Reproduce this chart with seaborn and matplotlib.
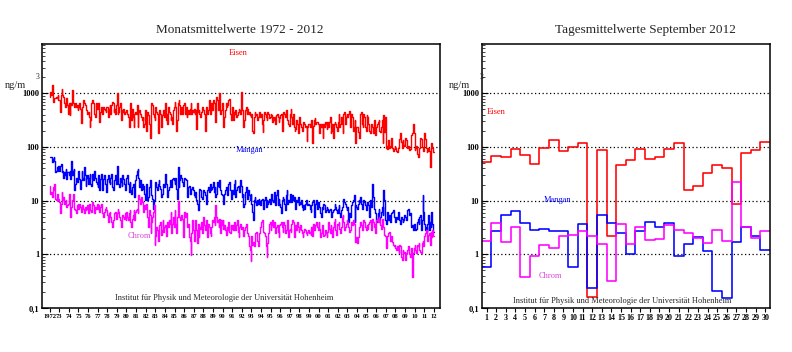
import seaborn as sns
import matplotlib.pyplot as plt
import pandas as pd
import numpy as np

# Monatsmittelwerte 1972-2011, ng/m3 (one line per year)
eisen = [
    865, 1040, 930, 1440, 675, 750, 805, 805, 865, 805, 930, 750,
    750, 450, 930, 1190, 930, 865, 650, 560, 650, 805, 600, 420,
    650, 390, 650, 600, 1155, 650, 600, 560, 650, 560, 600, 485,
    560, 650, 520, 280, 485, 560, 750, 670, 600, 560, 485, 420,
    450, 365, 240, 315, 670, 750, 650, 560, 420, 365, 650, 500,
    670, 650, 290, 450, 560, 520, 420, 560, 520, 485, 450, 560,
    560, 365, 520, 600, 420, 600, 700, 650, 450, 520, 420, 600,
    1000, 420, 450, 560, 650, 315, 485, 450, 520, 420, 450, 485,
    485, 420, 365, 235, 450, 650, 315, 520, 365, 235, 420, 450,
    420, 600, 235, 450, 485, 420, 365, 315, 365, 235, 270, 485,
    200, 365, 450, 390, 270, 150, 485, 650, 600, 420, 365, 315,
    560, 450, 420, 180, 365, 485, 420, 235, 390, 420, 485, 365,
    650, 315, 420, 270, 560, 450, 420, 315, 365, 270, 485, 560,
    700, 560, 200, 315, 650, 750, 600, 420, 560, 420, 485, 600,
    650, 420, 560, 365, 420, 485, 420, 520, 650, 420, 485, 450,
    520, 420, 485, 220, 650, 450, 485, 420, 365, 450, 560, 485,
    485, 420, 200, 560, 450, 420, 485, 750, 420, 560, 650, 485,
    750, 650, 315, 290, 865, 750, 485, 750, 1000, 420, 485, 650,
    485, 235, 365, 485, 650, 560, 600, 750, 800, 420, 365, 315,
    560, 315, 450, 420, 485, 365, 390, 450, 520, 485, 420, 1050,
    485, 365, 235, 315, 485, 560, 420, 520, 420, 450, 390, 365,
    420, 200, 180, 365, 450, 390, 420, 315, 365, 420, 450, 365,
    420, 270, 190, 315, 450, 420, 365, 315, 450, 420, 340, 365,
    420, 390, 290, 365, 315, 365, 270, 390, 420, 365, 290, 340,
    390, 420, 200, 365, 450, 420, 365, 485, 420, 315, 270, 250,
    420, 500, 365, 270, 420, 235, 200, 220, 315, 270, 180, 235,
    365, 270, 235, 200, 220, 290, 270, 235, 250, 130, 235, 270,
    270, 235, 290, 315, 120, 250, 315, 340, 270, 290, 290, 270,
    270, 180, 270, 235, 270, 150, 270, 235, 290, 270, 220, 290,
    235, 290, 365, 180, 200, 270, 150, 270, 290, 270, 235, 200,
    290, 420, 235, 270, 365, 270, 180, 420, 450, 270, 365, 420,
    365, 420, 470, 235, 270, 420, 365, 200, 235, 315, 120, 235,
    235, 190, 180, 150, 420, 450, 270, 235, 420, 365, 235, 200,
    390, 365, 270, 200, 180, 235, 270, 235, 180, 315, 235, 165,
    235, 270, 290, 315, 200, 190, 235, 315, 120, 390, 190, 365,
    95, 105, 90, 135, 95, 105, 120, 150, 95, 85, 90, 105,
    95, 85, 80, 95, 135, 140, 180, 125, 95, 135, 110, 105,
    150, 135, 135, 95, 105, 88, 90, 140, 165, 180, 270, 180,
    88, 95, 105, 75, 64, 70, 95, 150, 140, 100, 95, 85,
    180, 140, 95, 82, 85, 95, 85, 43, 110, 120, 95, 80,
]
mangan = [
    66, 64, 66, 52, 60, 64, 56, 34, 36, 42, 36, 45,
    36, 45, 48, 34, 36, 27, 34, 30, 39, 25, 34, 34,
    30, 36, 25, 56, 30, 36, 39, 15.5, 20.6, 27, 22, 24,
    36, 25, 16.7, 24, 36, 27, 24, 42, 30, 19, 27, 30,
    20.6, 27, 32, 20.6, 19, 32, 24, 34, 36, 27, 22, 20.6,
    18, 30, 15.5, 25, 32, 22, 15.5, 25, 30, 20.6, 18, 14.5,
    25, 30, 22, 20.6, 27, 32, 18, 15.5, 22, 24, 30, 20.6,
    45, 22, 20.6, 18, 27, 22, 19, 30, 25, 20.6, 15.5, 20.6,
    27, 30, 20.6, 14.5, 22, 15.5, 13.5, 18, 20.6, 15.5, 11.7, 24,
    30, 36, 39, 27, 18, 24, 15.5, 20.6, 16.7, 19, 13.5, 10.1,
    20.6, 13.5, 10.1, 11.7, 18, 24, 15.5, 12.5, 10.9, 7.1, 10.1, 13.5,
    22, 18, 15.5, 20.6, 24, 19, 16.7, 11.7, 13.5, 15.5, 20.6, 18,
    32, 20.6, 14.5, 11.7, 15.5, 18, 24, 20.6, 18, 25, 27, 24,
    20.6, 27, 16.7, 10.9, 43, 18, 24, 30, 27, 22, 20.6, 19,
    27, 25, 24, 22, 11.7, 18, 19, 13.5, 14.5, 16.7, 18, 15.5,
    12.5, 11.7, 14.5, 10.1, 8.8, 6.6, 13.5, 16.7, 15.5, 11.7, 10.9, 14.5,
    15.5, 14.5, 12.5, 8.8, 13.5, 15.5, 18, 14.5, 20.6, 15.5, 16.7, 18,
    22, 14.5, 18, 11.7, 13.5, 22, 19, 18, 24, 15.5, 13.5, 12.5,
    10.1, 8.8, 13.5, 15.5, 18, 14.5, 12.5, 20.6, 22, 15.5, 11.7, 10.9,
    15.5, 13.5, 20.6, 24, 11.7, 15.5, 18, 19, 16.7, 14.5, 24, 19,
    11.7, 13.5, 7.6, 8.8, 14.5, 18, 12.5, 10.9, 15.5, 12.5, 10.1, 13.5,
    8.8, 6.2, 4.3, 10.1, 11.7, 9.4, 8.2, 10.1, 8.8, 10.9, 9.4, 8.2,
    10.1, 10.9, 8.8, 7.1, 10.1, 11.7, 7.6, 10.1, 8.8, 9.4, 10.9, 8.8,
    11.7, 13.5, 10.1, 9.4, 14.5, 10.9, 8.2, 12.5, 15.5, 8.2, 10.9, 8.8,
    7.6, 5.8, 10.1, 11.7, 10.9, 8.8, 6.6, 12.5, 15.5, 8.8, 10.1, 9.4,
    13.5, 10.9, 9.4, 12.5, 10.1, 11.7, 8.8, 7.1, 10.1, 9.4, 11.7, 8.2,
    9.4, 8.8, 10.1, 7.6, 6.6, 8.2, 7.1, 8.8, 10.1, 9.4, 8.2, 8.8,
    8.2, 7.1, 6.2, 8.2, 9.4, 10.1, 5, 8.2, 8.8, 10.1, 7.1, 9.4,
    9.4, 7.6, 5.8, 5, 7.6, 7.1, 8.8, 8.2, 6.2, 6.6, 7.6, 7.1,
    6.2, 6.6, 7.1, 5.3, 5, 6.2, 6.6, 7.1, 8.8, 7.6, 6.6, 5.8,
    7.1, 8.2, 5.8, 5, 6.6, 7.6, 10.1, 10.9, 9.4, 8.8, 7.6, 6.6,
    7.6, 4, 5.8, 5, 6.6, 8.2, 9.4, 10.1, 12.5, 4, 8.2, 7.6,
    7.1, 8.8, 10.1, 9.4, 11.7, 8.8, 7.1, 7.6, 10.1, 9.4, 8.2, 6.6,
    7.1, 9.4, 8.2, 5, 10.1, 8.8, 7.6, 20.6, 11.7, 7.1, 6.2, 5.8,
    4, 4.6, 5.8, 7.1, 4.3, 5, 6.2, 7.6, 5.3, 15.5, 10.1, 4.3,
    3.7, 5, 6.2, 4.3, 5.3, 4, 4.6, 5.8, 6.2, 6.6, 5, 4.3,
    4, 5, 4.6, 6.2, 5.8, 4.3, 3.7, 5, 4.6, 4, 4.3, 5.3,
    5, 4.3, 5.8, 6.6, 7.1, 5.3, 5.8, 4, 3.2, 3.5, 2.85, 3.7,
    3.5, 2.85, 3, 4, 4.6, 3.7, 5, 5.3, 2.85, 4.3, 12.5, 6.2,
    3.7, 2.85, 3.2, 2.6, 3.7, 5.3, 2.85, 4, 3.2, 6.2, 3.7, 2.6,
]
chrom = [
    19, 13.5, 14.5, 11.7, 18, 15.5, 20.6, 10.9, 10.1, 13.5, 10.1, 10.9,
    9.4, 5.8, 8.8, 14.5, 10.1, 11.7, 8.8, 9.4, 10.1, 7.6, 8.2, 8.8,
    13.5, 10.1, 5, 7.6, 10.1, 13.5, 8.8, 7.1, 6.6, 5.8, 8.2, 8.8,
    7.1, 8.8, 7.6, 6.2, 6.6, 8.2, 7.1, 5.8, 7.6, 6.6, 7.1, 8.2,
    5.8, 8.8, 8.2, 6.6, 6.2, 9.4, 8.2, 6.6, 5.8, 7.6, 7.1, 8.8,
    7.1, 8.2, 6.2, 7.6, 8.8, 6.6, 5.8, 5, 6.2, 7.1, 7.6, 6.6,
    5.3, 4, 5.8, 6.2, 5, 4, 3.2, 4.3, 5, 5.8, 6.2, 4.6,
    5.8, 7.1, 6.2, 5, 4.3, 3.2, 4, 5.3, 5, 4.6, 5.8, 4.3,
    6.2, 5, 4.3, 5.8, 6.6, 4, 3.2, 4.6, 5.3, 6.6, 4.3, 6.2,
    6.6, 7.1, 5.8, 12.6, 10.9, 8.8, 11.7, 9.4, 7.6, 6.2, 8.2, 7.1,
    8.8, 7.1, 5, 3.2, 6.6, 5.3, 2.45, 4, 5, 6.2, 8.2, 1.5,
    2.2, 3.2, 2.85, 1.8, 2.45, 3.5, 4, 2.3, 2.85, 4.3, 2.6, 3.2,
    3.5, 2.2, 2.6, 4, 3.2, 4.3, 3.7, 6.2, 2.45, 3.7, 5, 3.2,
    6.6, 3.7, 2.45, 5, 10, 6.6, 5, 4.3, 5.3, 4.6, 3.2, 2.1,
    6.2, 5, 5.8, 4.3, 3.2, 3.7, 2.1, 1.8, 0.98, 2.45, 4.3, 2.85,
    1.8, 4, 4.3, 2.85, 1.6, 3.7, 2.1, 3.2, 3, 4, 2.45, 2.85,
    5, 3.5, 2.85, 4.3, 3, 2.1, 3.7, 3.2, 2.45, 2.2, 3.2, 4.3,
    4, 5, 3.5, 8.2, 5, 4, 4.3, 3.2, 4.6, 2.45, 4.3, 3.5,
    4.3, 3, 3.5, 2.85, 2.3, 3.2, 2.85, 4, 2.6, 2.45, 3.5, 3,
    3.5, 2.85, 4, 3.2, 2.85, 3.5, 4.3, 2.6, 2.1, 3.2, 3.7, 3,
    3.2, 2.6, 2.2, 2.85, 3.2, 3.7, 3, 2.45, 2.2, 1.4, 1.2, 0.75,
    2.2, 1.5, 1.7, 1.4, 1.8, 2.45, 2.6, 1.8, 1.4, 2.2, 2.45, 3.2,
    4, 4.3, 3.2, 2.6, 2.45, 2.2, 1.4, 0.9, 1.6, 2.45, 3.7, 4,
    2.85, 3.5, 4.3, 3.2, 4, 2.85, 2.45, 3.2, 3.5, 2.6, 2.1, 3.5,
    3.7, 4, 3.2, 2.6, 4, 3.5, 2.45, 2.85, 3.7, 4.3, 2.1, 2.85,
    3, 2.6, 3.7, 4.3, 4, 2.1, 2.45, 3.5, 2.85, 4, 3.2, 2.6,
    3, 3.5, 2.85, 2.45, 2.1, 2.6, 3, 2.85, 2.45, 2.3, 2.6, 2.85,
    2.45, 2.6, 2.3, 3.2, 2.2, 3.7, 2.85, 3.2, 3.5, 4, 3.2, 2.85,
    4, 3, 2.1, 2.45, 3.5, 3, 2.2, 2.3, 2.85, 2.45, 2.1, 2.6,
    4, 3, 2.45, 3.5, 2.85, 2.1, 3.2, 4, 4.6, 2.85, 2.3, 3.7,
    3.5, 4, 3, 2.45, 3.2, 5, 5.3, 4, 2.85, 3.2, 3.7, 4.3,
    4, 3.2, 2.6, 2.85, 3.2, 4, 3.5, 4.3, 3.7, 3, 1.7, 2.1,
    1.6, 2.1, 2.6, 3.2, 4, 3.5, 2.85, 3, 4.3, 4, 3.2, 2.85,
    3.5, 3, 3.7, 4, 4.3, 3.5, 2.85, 4.6, 4, 3.2, 3.7, 2.45,
    4.3, 4.6, 4, 5, 4.3, 3.5, 3, 4.6, 4, 3.2, 2.3, 2.2,
    1.3, 2.1, 2.2, 2.45, 2.6, 1.8, 2.1, 2.2, 1.7, 1.5, 1.4, 1.5,
    1.3, 1.2, 1.4, 1.2, 1.05, 1.5, 1.4, 0.9, 0.8, 1.2, 1.05, 1.1,
    0.8, 1.05, 1.1, 1.2, 1.4, 1, 0.9, 1.2, 1.3, 0.38, 1.05, 1.3,
    1.5, 1.2, 1.05, 1.5, 1.4, 1.6, 1.2, 1.1, 1.05, 1.6, 1.8, 1.4,
    2.2, 2.45, 2.85, 2.6, 1.8, 2.3, 2.45, 1.5, 2.6, 2.1, 2.85, 2.2,
]

# Tagesmittelwerte September 2012
days = list(range(1, 31))
eisen_tag = [52, 68, 65, 92, 71, 48, 96, 135, 84, 100, 119, 0.16, 88, 2.15, 46,
             57, 92, 61, 65, 92, 119, 16, 19, 33, 46, 41, 8.8, 77, 88, 124]
mangan_tag = [0.59, 2.78, 5.3, 6.5, 3.9, 2.9, 3.0, 2.67, 2.67, 0.59, 3.6, 0.235, 5.5, 3.9, 2.45,
              1.0, 2.78, 4.0, 3.2, 3.9, 0.92, 1.53, 2.06, 1.14, 0.206, 0.153, 1.67, 3.2, 2.15, 1.19]
chrom_tag = [1.74, 3.9, 1.67, 3.2, 0.375, 0.92, 1.47, 1.29, 2.15, 2.25, 2.78, 2.15, 1.53, 0.316, 3.6,
             1.53, 3.3, 1.82, 1.9, 3.45, 2.9, 2.45, 1.98, 1.6, 2.9, 1.74, 22.5, 3.2, 1.98, 2.67]

year_labels = ['1972'] + ['%02d' % (y % 100) for y in range(1973, 2013)]
ytick_vals = [0.1, 1, 10, 100, 1000]
ytick_labels = ['0,1', '1', '10', '100', '1000']
colors = {'Eisen': '#ff0000', 'Mangan': '#0000ff', 'Chrom': '#ff00ff'}

sns.set_theme(style='ticks')
plt.rcParams['font.family'] = ['Liberation Serif', 'DejaVu Serif']

W, H = 792, 352
fig = plt.figure(figsize=(W / 100, H / 100), dpi=100)


def px(x, y):
    return x / W, 1 - y / H


# monthly data, long format
t = 1972 + np.arange(len(eisen)) / 12
t_end = 1972 + len(eisen) / 12
rows = []
for name, vals in [('Eisen', eisen), ('Mangan', mangan), ('Chrom', chrom)]:
    for ti, v in zip(list(t) + [t_end], vals + [vals[-1]]):
        rows.append((ti, v, name))
df_mon = pd.DataFrame(rows, columns=['t', 'wert', 'element'])

rows = []
for name, vals in [('Eisen', eisen_tag), ('Mangan', mangan_tag), ('Chrom', chrom_tag)]:
    for d, v in zip([d - 0.5 for d in days] + [days[-1] + 0.5], vals + [vals[-1]]):
        rows.append((d, v, name))
df_tag = pd.DataFrame(rows, columns=['tag', 'wert', 'element'])

ax1 = fig.add_axes([42 / W, (H - 308) / H, 398 / W, 264 / H])
ax2 = fig.add_axes([481.7 / W, (H - 308) / H, 288.3 / W, 264 / H])

sns.lineplot(data=df_mon, x='t', y='wert', hue='element', palette=colors,
             estimator=None, drawstyle='steps-post', lw=1.0, legend=False, ax=ax1)
sns.lineplot(data=df_tag, x='tag', y='wert', hue='element', palette=colors,
             estimator=None, drawstyle='steps-post', lw=1.15, legend=False, ax=ax2)

for ax in (ax1, ax2):
    ax.set_yscale('log')
    ax.set_ylim(0.1, 8300)
    ax.set_yticks(ytick_vals)
    ax.set_yticklabels(ytick_labels, fontweight='bold')
    ax.set_xlabel('')
    ax.set_ylabel('')
    for v in [1, 10, 100, 1000]:
        ax.axhline(v, color='black', lw=0.9, ls=(0, (1, 2)), zorder=0.5)
    for s in ax.spines.values():
        s.set_visible(True)
        s.set_color('black')
        s.set_linewidth(1.1)
    ax.tick_params(axis='y', which='major', direction='in', length=4, width=0.8,
                   labelsize=6, pad=2, colors='black')
    ax.tick_params(axis='y', which='minor', direction='in', length=2.5, width=0.6)
    ax.tick_params(axis='x', direction='out', length=3, width=0.8, labelsize=5.8,
                   pad=1.5, colors='black')

ax1.set_xlim(1971.2, 2012.65)
ax1.set_xticks(range(1972, 2013))
ax1.set_xticklabels(year_labels, fontsize=4.8, fontweight='bold')

ax2.set_xlim(0.5, 30.5)
ax2.set_xticks(days)
ax2.set_xticklabels([str(d) for d in days], fontweight='bold')

# titles and annotations
fig.text(*px(240, 30), 'Monatsmittelwerte 1972 - 2012', ha='center', va='center', fontsize=9.5)
fig.text(*px(645, 30), 'Tagesmittelwerte September 2012', ha='center', va='center', fontsize=9.5)
for x0 in (5, 449):
    fig.text(*px(x0, 86), 'ng/m', ha='left', va='center', fontsize=7.5)
    fig.text(*px(x0 + 31, 77), '3', ha='left', va='center', fontsize=5.5)

lab = dict(ha='center', va='center', fontsize=6)
fig.text(*px(238, 53), 'Eisen', color='#ff0000', **lab)
fig.text(*px(250, 150), 'Mangan', color='#0000ff', **lab)
fig.text(*px(139, 236), 'Chrom', color='#dd44dd', **lab)
fig.text(*px(224, 298), 'Institut für Physik und Meteorologie der Universität Hohenheim', **lab)

fig.text(*px(496, 112), 'Eisen', color='#ff0000', **lab)
fig.text(*px(558, 200), 'Mangan', color='#0000ff', **lab)
fig.text(*px(550, 276), 'Chrom', color='#dd44dd', **lab)
fig.text(*px(622, 301), 'Institut für Physik und Meteorologie der Universität Hohenheim', **lab)

fig.savefig('out.png', dpi=100, facecolor='white')
